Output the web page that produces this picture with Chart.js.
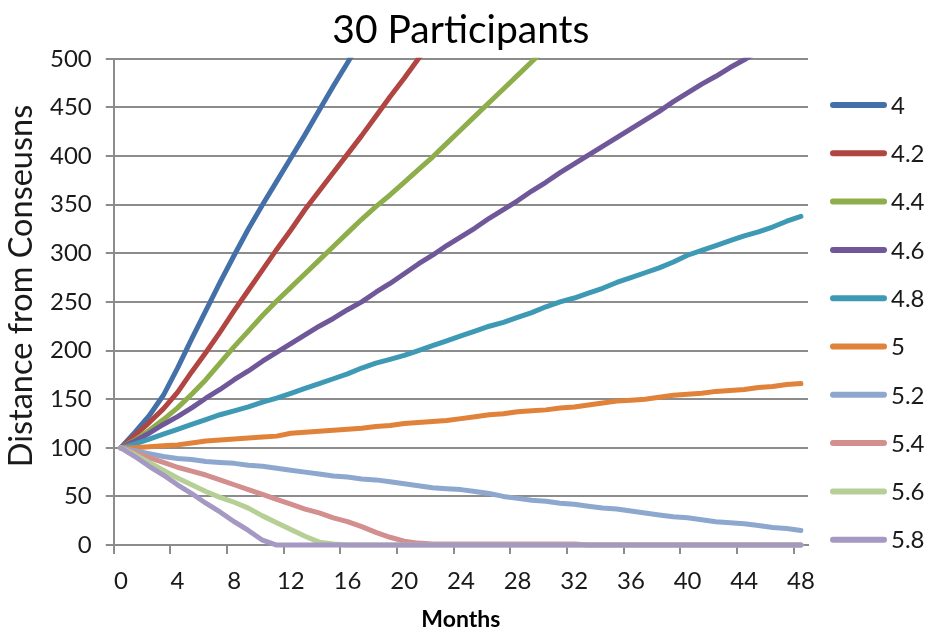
<!DOCTYPE html>
<html>
<head>
<meta charset="utf-8">
<script src="https://cdn.jsdelivr.net/npm/chart.js@4"></script>
<style>
  html, body { margin: 0; padding: 0; background: #ffffff; }
  #wrap { width: 930px; height: 633px; }
</style>
</head>
<body>
<div id="wrap"><canvas id="chart" width="930" height="633"></canvas></div>
<script>
// Month categories along the x axis
const months = ['0','1','2','3','4','5','6','7','8','9','10','11','12','13','14','15','16',
  '17','18','19','20','21','22','23','24','25','26','27','28','29','30','31','32','33',
  '34','35','36','37','38','39','40','41','42','43','44','45','46','47','48'];

// Series names (threshold values)
const seriesLabels = ['4', '4.2', '4.4', '4.6', '4.8', '5', '5.2', '5.4', '5.6', '5.8'];

// Distance from consensus per month, one array per series
const s40 = [100,116,133,154,182,212,241,270,298,325,350,374,398,422,447,472,496,521];
const s42 = [100,113,126,140,157,178,198,219,241,262,283,304,324,345,364,383,402,421,441,461,480,500,519];
const s44 = [100,108,118,129,141,155,170,187,204,220,236,251,265,279,293,307,321,335,348,360,373,386,399,413,427,441,455,469,483,497,511];
const s46 = [100,107,115,124,132,141,151,160,170,179,189,198,207,216,225,233,242,250,260,269,279,289,298,308,317,326,336,345,354,364,373,383,392,401,410,419,428,437,446,456,465,474,482,491,499,508];
const s48 = [100,104,109,114,119,124,129,134,138,142,147,151,156,161,166,171,176,182,187,191,195,200,205,210,215,220,225,229,234,239,245,250,254,259,264,270,275,280,285,291,298,303,308,313,318,322,327,333,338];
const s50 = [100,100,101,102,103,105,107,108,109,110,111,112,115,116,117,118,119,120,122,123,125,126,127,128,130,132,134,135,137,138,139,141,142,144,146,148,149,150,152,154,155,156,158,159,160,162,163,165,166];
const s52 = [100,97,94,91,89,88,86,85,84,82,81,79,77,75,73,71,70,68,67,65,63,61,59,58,57,55,53,50,48,46,45,43,42,40,38,37,35,33,31,29,28,26,24,23,22,20,18,17,15];
const s54 = [100,95,90,85,80,76,72,67,62,57,52,47,42,37,33,28,24,19,13,8,4,2,1,1,1,1,1,1,1,1,1,1,1,0,0,0,0,0,0,0,0,0,0,0,0,0,0,0,0];
const s56 = [100,93,85,77,69,62,55,49,44,38,30,23,16,9,3,1,0,0,0,0,0,0,0,0,0,0,0,0,0,0,0,0,0,0,0,0,0,0,0,0,0,0,0,0,0,0,0,0,0];
const s58 = [100,91,81,72,62,53,43,34,24,15,5,0,0,0,0,0,0,0,0,0,0,0,0,0,0,0,0,0,0,0,0,0,0,0,0,0,0,0,0,0,0,0,0,0,0,0,0,0,0];

const seriesValues = [s40, s42, s44, s46, s48, s50, s52, s54, s56, s58];

// Line colours, one per series
const lineColors = ['#4470AA', '#B04541', '#8DAE4B', '#70579A', '#3E9AB4',
                    '#E0823A', '#8EA7CF', '#D38F8E', '#B6CF95', '#A598C2'];

const FONT = 'Lato, "Open Sans", sans-serif';
const TEXT = '#1a1a1a';
const GRID = '#8c8c8c';
const yAxisTitle = 'Distance from Conseusns';

// Vertical axis title, placed beside the tick labels
const yTitlePlugin = {
  id: 'yTitle',
  afterDraw(chart) {
    const ctx = chart.ctx;
    ctx.save();
    ctx.font = '32.5px ' + FONT;
    ctx.fillStyle = TEXT;
    ctx.textAlign = 'center';
    ctx.textBaseline = 'middle';
    ctx.translate(22, 286);
    ctx.rotate(-Math.PI / 2);
    ctx.fillText(yAxisTitle, 0, 0);
    ctx.restore();
  }
};

// Series key in the right margin: a short stroke in the series colour, then its name
const sideLegendPlugin = {
  id: 'sideLegend',
  afterDraw(chart) {
    const ctx = chart.ctx;
    const left = chart.chartArea.right + 25;
    const firstY = 105;
    const step = 48.3;
    ctx.save();
    ctx.font = '24px ' + FONT;
    ctx.textBaseline = 'middle';
    ctx.textAlign = 'left';
    chart.data.datasets.forEach((ds, i) => {
      const y = firstY + i * step;
      ctx.strokeStyle = ds.borderColor;
      ctx.lineWidth = 6;
      ctx.lineCap = 'round';
      ctx.beginPath();
      ctx.moveTo(left, y);
      ctx.lineTo(left + 51, y);
      ctx.stroke();
      ctx.fillStyle = TEXT;
      ctx.fillText(ds.label, left + 58, y + 1);
    });
    ctx.restore();
  }
};

const datasets = seriesLabels.map((name, i) => ({
  label: name,
  data: seriesValues[i],
  borderColor: lineColors[i],
  backgroundColor: lineColors[i],
  borderWidth: 5,
  borderCapStyle: 'round',
  borderJoinStyle: 'round',
  pointRadius: 0,
  pointHoverRadius: 0,
  tension: 0,
  fill: false,
  order: -i,
  clip: { left: 5, top: 1, right: 5, bottom: 5 }
}));

new Chart(document.getElementById('chart'), {
  type: 'line',
  data: { labels: months, datasets },
  plugins: [yTitlePlugin, sideLegendPlugin],
  options: {
    responsive: false,
    animation: false,
    layout: { padding: { left: 36, right: 122, top: 0, bottom: 0 } },
    plugins: {
      title: {
        display: true,
        text: '30 Participants',
        fullSize: false,
        color: '#000000',
        font: { family: FONT, size: 39, weight: 'normal' },
        padding: { top: 7, bottom: 5 }
      },
      legend: { display: false },
      tooltip: { enabled: false }
    },
    scales: {
      x: {
        type: 'category',
        offset: true,
        grid: {
          display: true,
          drawOnChartArea: false,
          drawTicks: true,
          tickLength: 9,
          offset: true,
          lineWidth: 2,
          color: (c) => (c.index % 4 === 0 ? GRID : 'rgba(0,0,0,0)')
        },
        border: { display: true, color: GRID, width: 2 },
        ticks: {
          autoSkip: false,
          maxRotation: 0,
          minRotation: 0,
          padding: 12.5,
          color: TEXT,
          font: { family: FONT, size: 24 },
          callback: (v, i) => (i % 4 === 0 ? months[i] : '')
        },
        title: {
          display: true,
          text: 'Months',
          color: '#000000',
          font: { family: FONT, size: 23, weight: 'bold', lineHeight: 1.05 },
          padding: { top: 0, bottom: 1 }
        }
      },
      y: {
        min: 0,
        max: 500,
        ticks: { stepSize: 50, padding: 14, color: TEXT, font: { family: FONT, size: 24 } },
        grid: { color: GRID, lineWidth: 2, tickLength: 8 },
        border: { display: true, color: GRID, width: 2 }
      }
    }
  }
});
</script>
</body>
</html>
